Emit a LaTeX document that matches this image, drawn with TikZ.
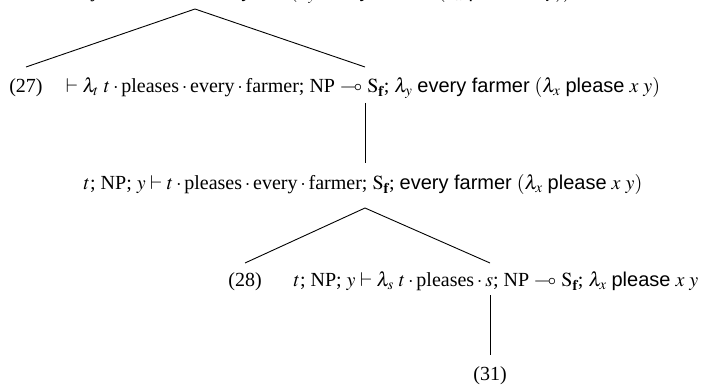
\documentclass[tikz,border=0pt]{standalone}
\usepackage{amssymb}
\usepackage{mathptmx}
\usepackage[no-math]{fontspec}
\setmainfont{Liberation Serif}
\setsansfont{Liberation Sans}
\newcommand{\Sfin}{\mathrm{S}_{\mathbf{f}}}
\newcommand{\ct}{${}\cdot{}$}
\begin{document}
\begin{tikzpicture}[x=1pt,y=-1pt,
  every node/.style={inner sep=0pt, outer sep=0pt, font=\fontsize{20}{24}\selectfont},
  seqnode/.style={anchor=base},
  lblnode/.style={anchor=base},
  edge/.style={draw=black, line width=0.9pt}]
\useasboundingbox (0,0) rectangle (705,385);
\coordinate (top) at (195,9);
\node[anchor=base east] (root) at (571,-2.5) {$\vdash$ everyone\ct pleases\ct every\ct farmer; $\Sfin$; \textsf{everyone} $(\lambda_y$ \textsf{every farmer} $(\lambda_x$ \textsf{please} $x\ y))$};
\node[lblnode] (n27) at (26,93) {(27)};
\node[seqnode] (m27) at (363,93) {$\vdash\lambda_t\ t\cdot{}$pleases\ct every\ct farmer; NP $\multimap$ $\Sfin$; $\lambda_y$ \textsf{every farmer} $(\lambda_x$ \textsf{please} $x\ y)$};
\node[seqnode] (r2) at (363,190) {$t$; NP; $y\vdash t\cdot{}$pleases\ct every\ct farmer; $\Sfin$; \textsf{every farmer} $(\lambda_x$ \textsf{please} $x\ y)$};
\node[lblnode] (n28) at (245,287) {(28)};
\node[seqnode] (r3) at (496,287) {$t$; NP; $y\vdash\lambda_s\ t\cdot{}$pleases${}\cdot s$; NP $\multimap$ $\Sfin$; $\lambda_x$ \textsf{please} $x\ y$};
\node[lblnode] (n31) at (490,380) {(31)};
\draw[edge] ([yshift=26pt]n27.base) -- (top) -- ([xshift=2pt,yshift=26pt]m27.base);
\draw[edge] ([xshift=2pt,yshift=-10pt]m27.base) -- ([xshift=2pt,yshift=27pt]r2.base);
\draw[edge] ([yshift=24pt]n28.base) -- ([xshift=2pt,yshift=-18pt]r2.base) -- ([xshift=-6pt,yshift=24pt]r3.base);
\draw[edge] ([xshift=-6pt,yshift=-8pt]r3.base) -- ([yshift=25pt]n31.base);
\end{tikzpicture}
\end{document}
